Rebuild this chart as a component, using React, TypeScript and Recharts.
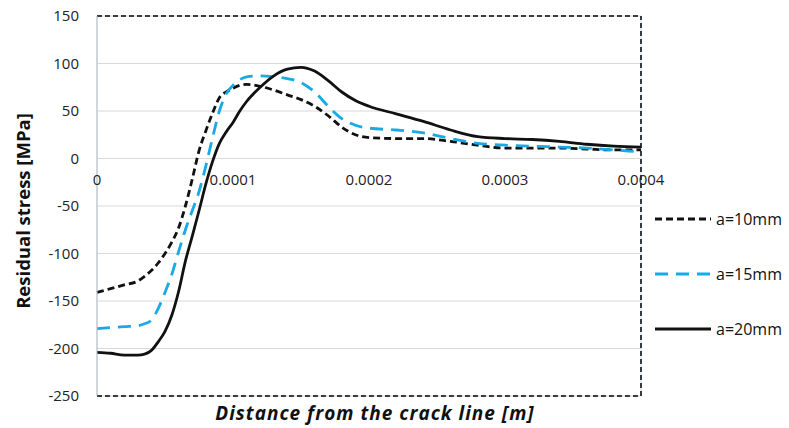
import React from "react";
import {
  CartesianGrid,
  Legend,
  Line,
  LineChart,
  ReferenceDot,
  ReferenceLine,
  XAxis,
  YAxis,
} from "recharts";

// distance from the crack line, in metres
const distance = [
  0, 0.00001, 0.00002, 0.00003, 0.000035, 0.00004, 0.000045, 0.00005, 0.000055, 0.00006, 0.000065,
  0.00007, 0.000075, 0.00008, 0.000085, 0.00009, 0.000095, 0.0001, 0.000105, 0.00011,
  0.00012, 0.00013, 0.00014, 0.00015, 0.00016, 0.00017, 0.00018, 0.00019, 0.0002,
  0.00022, 0.00024, 0.00026, 0.00028, 0.0003, 0.00032, 0.00034, 0.00036, 0.00038, 0.0004,
];

const a10 = [
  -141, -137, -133, -129, -124, -118, -110, -100, -88, -73, -50, -22, 8, 29, 48, 64, 70, 74, 77, 78,
  76, 72, 67, 62, 55, 45, 33, 25, 22, 21, 21, 18, 14, 11, 11, 11, 10, 9, 9,
];
const a15 = [
  -179, -178, -177, -176, -174, -170, -158, -141, -122, -98, -75, -55, -35, -8, 22, 50, 68, 77, 83, 86,
  87, 86, 84, 80, 70, 55, 42, 35, 32, 30, 27, 21, 16, 14, 13, 12, 11, 9, 7,
];
const a20 = [
  -204, -205, -207, -207, -206, -202, -193, -182, -165, -140, -108, -82, -55, -27, -3, 16, 28, 38, 50, 60,
  75, 87, 94, 96, 92, 82, 70, 61, 55, 47, 39, 30, 23, 21, 20, 18, 15, 13, 12,
];

const xTicks = [0, 0.0001, 0.0002, 0.0003, 0.0004];
const yTicks = [-250, -200, -150, -100, -50, 0, 50, 100, 150];

const rows = distance.map((x, i) => ({ x, a10: a10[i], a15: a15[i], a20: a20[i] }));

const FONT = "'Open Sans', Lato, sans-serif";

function LegendBox(props: any) {
  const items = props.payload || [];
  return (
    <div style={{ width: 130 }}>
      {items.map((it: any) => (
        <div key={it.value} style={{ display: "flex", alignItems: "center", height: 55 }}>
          <svg width={62} height={10}>
            <line
              x1={3}
              x2={59}
              y1={5}
              y2={5}
              stroke={it.color}
              strokeWidth={2.8}
              strokeDasharray={it.payload?.strokeDasharray}
            />
          </svg>
          <span style={{ fontFamily: FONT, fontSize: 16, color: "#111", marginLeft: 3 }}>{it.value}</span>
        </div>
      ))}
    </div>
  );
}

export default function App() {
  return (
    <div style={{ position: "absolute", left: 0, top: 0, background: "#fff" }}>
      <LineChart width={789} height={428} data={rows} margin={{ top: 16, right: 18, bottom: 31, left: 0 }}>
        <CartesianGrid horizontal={true} vertical={false} stroke="#d9d9d9" />
        <CartesianGrid horizontal={false} vertical={true} stroke="#c5dcf0" />
        <XAxis
          dataKey="x"
          type="number"
          domain={[0, 0.0004]}
          ticks={xTicks}
          tick={false}
          tickLine={false}
          axisLine={false}
          height={1}
          label={{
            value: "Distance from the crack line [m]",
            position: "bottom",
            offset: 10,
            dx: 6,
            fontFamily: FONT,
            fontWeight: "bold",
            fontStyle: "italic",
            fontSize: 19,
            letterSpacing: 1,
            fill: "#111",
          }}
        />
        <YAxis
          type="number"
          domain={[-250, 150]}
          ticks={yTicks}
          width={97}
          tickLine={false}
          tickMargin={12}
          axisLine={{ stroke: "#bfbfbf" }}
          tick={{ fontFamily: FONT, fontSize: 15, fill: "#222" }}
          label={{
            content: ({ viewBox }: any) => {
              const cy = viewBox.y + viewBox.height / 2 + 5;
              return (
                <text
                  x={22}
                  y={cy}
                  transform={`rotate(-90, 22, ${cy})`}
                  textAnchor="middle"
                  dominantBaseline="central"
                  fontFamily={FONT}
                  fontWeight="bold"
                  fontSize={18.5}
                  fill="#111"
                >
                  Residual stress [MPa]
                </text>
              );
            },
          }}
        />
        <ReferenceLine y={150} stroke="#000" strokeDasharray="5 3" strokeWidth={1.5} />
        <ReferenceLine y={-250} stroke="#000" strokeDasharray="5 3" strokeWidth={1.5} />
        <ReferenceLine x={0.0004} stroke="#000" strokeDasharray="5 3" strokeWidth={1.5} />
        {xTicks.map((t) => (
          <ReferenceDot
            key={t}
            x={t}
            y={0}
            r={0}
            fill="none"
            stroke="none"
            label={{ value: String(t), position: "bottom", offset: 16, fontFamily: FONT, fontSize: 15, fill: "#222" }}
          />
        ))}
        <Legend
          layout="vertical"
          align="right"
          verticalAlign="top"
          content={<LegendBox />}
          wrapperStyle={{ left: 652, top: 191, width: 130 }}
        />
        <Line
          name="a=10mm"
          dataKey="a10"
          type="monotone"
          stroke="#111"
          strokeWidth={2.8}
          strokeDasharray="7 4"
          dot={false}
          isAnimationActive={false}
        />
        <Line
          name="a=15mm"
          dataKey="a15"
          type="monotone"
          stroke="#18a9e6"
          strokeWidth={2.8}
          strokeDasharray="13 8"
          dot={false}
          isAnimationActive={false}
        />
        <Line
          name="a=20mm"
          dataKey="a20"
          type="monotone"
          stroke="#111"
          strokeWidth={2.8}
          dot={false}
          isAnimationActive={false}
        />
      </LineChart>
    </div>
  );
}
